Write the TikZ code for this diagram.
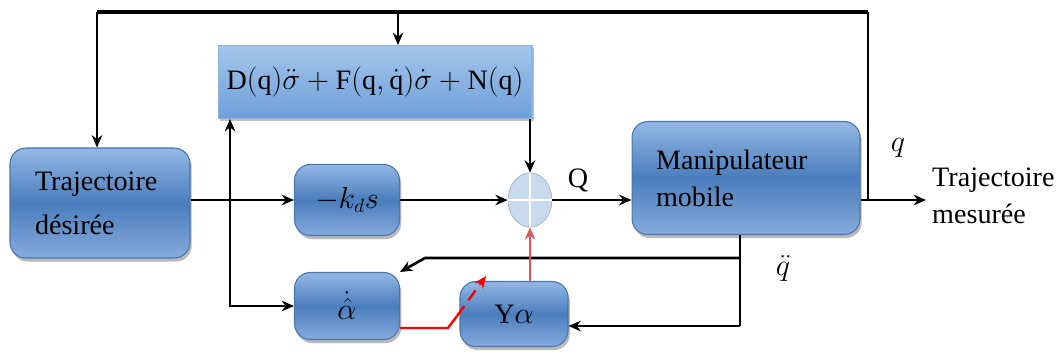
\documentclass[tikz,border=0pt]{standalone}
\usepackage{fontspec}
\setmainfont{Liberation Serif}
\usetikzlibrary{shapes.geometric,shadows,arrows.meta}
\definecolor{boxtop}{HTML}{93B8E5}
\definecolor{boxmid}{HTML}{4A7DBD}
\definecolor{boxbot}{HTML}{86ABDC}
\definecolor{boxline}{HTML}{4A76AE}
\definecolor{dfntop}{HTML}{A3C5EB}
\definecolor{dfnbot}{HTML}{6E9FD9}
\definecolor{sumfill}{HTML}{C9DAEF}
\definecolor{adaptred}{HTML}{D9595B}
\begin{document}
\begin{tikzpicture}[x=0.02cm, y=-0.02cm, >={Stealth[length=7pt,width=6pt]},
    blk/.style={rectangle, rounded corners=9pt, draw=boxline, line width=0.6pt,
        top color=boxtop, bottom color=boxbot, middle color=boxmid,
        drop shadow={shadow xshift=1pt, shadow yshift=-2pt, fill=black!55},
        font=\fontsize{16}{21}\selectfont, align=center},
    sig/.style={line width=1.5pt, black},
    lab/.style={font=\fontsize{16}{21}\selectfont}]
    \useasboundingbox (0,0) rectangle (1057,353);
    % blocs
    \node[blk, minimum width=3.6cm, minimum height=2.2cm] (traj) at (100,203)
        {\parbox{2.6cm}{\raggedright Trajectoire\\[4pt] désirée}};
    \node[blk, minimum width=2.1cm, minimum height=1.42cm] (kd) at (347,200) {$-k_d s$};
    \node[rectangle, draw=dfnbot!80, line width=0.6pt, top color=dfntop, bottom color=dfnbot,
        drop shadow={shadow xshift=1pt, shadow yshift=-1.5pt, fill=black!50},
        minimum width=6.28cm, minimum height=1.46cm, lab] (dfn) at (375,82)
        {$\mathrm{D(q)}\ddot{\sigma}+\mathrm{F}(\mathrm{q},\dot{\mathrm{q}})\dot{\sigma}+\mathrm{N(q)}$};
    \node[ellipse, draw=sumfill!80!black, fill=sumfill, minimum width=0.88cm,
        minimum height=1.08cm, inner sep=0pt] (sum) at (530,200) {};
    \draw[white, line width=0.8pt] (sum.north) -- (sum.south) (sum.west) -- (sum.east);
    \node[blk, minimum width=4.56cm, minimum height=2.26cm] (manip) at (746,178)
        {\parbox{3.6cm}{\raggedright Manipulateur\\ mobile}};
    \node[blk, minimum width=2.1cm, minimum height=1.34cm] (alpha) at (347,306) {$\dot{\hat{\alpha}}$};
    \node[blk, minimum width=2.16cm, minimum height=1.3cm] (ya) at (514,314) {Y$\alpha$};
    % textes
    \node[lab, anchor=west, align=left] (mes) at (926,196) {Trajectoire\\ mesurée};
    \node[lab] (Q) at (578,180) {Q};
    \node[lab] (q) at (898,148) {$q$};
    \node[lab] (qdd) at (783,268) {$\ddot{q}$};
    % points de branchement
    \coordinate (b1) at (230,200);
    \coordinate (b2) at (868,200);
    \coordinate (tl) at (97,12);
    \coordinate (tr) at (868,12);
    \coordinate (td) at (398,12);
    \coordinate (b3) at (740,258);
    \coordinate (b4) at (425,258);
    \coordinate (b5) at (740,326);
    % liaisons
    \draw[sig, ->] (traj.east |- b1) -- (kd.west);
    \draw[sig, ->] (b1) -- (b1 |- dfn.south);
    \draw[sig, ->] (b1) |- (alpha.west);
    \draw[sig, ->] (kd.east) -- (sum.west);
    \draw[sig, ->] (dfn.south -| sum) -- (sum.north);
    \draw[sig, ->] (sum.east) -- (sum.east -| manip.west);
    \draw[sig, ->] (manip.east |- b2) -- (mes.west |- b2);
    \draw[sig] (b2) -- (tr);
    \draw[sig, line width=2.2pt] (tr) -- (tl);
    \draw[sig, ->] (tl) -- (tl |- traj.north);
    \draw[sig, ->] (td) -- (td |- dfn.north);
    \draw[sig] (manip.south -| b3) -- (b5);
    \draw[sig, ->] (b5) -- (b5 -| ya.east);
    \draw[sig, ->] (b3) -- (b4) -- (alpha.north east);
    \draw[adaptred, line width=1.3pt, ->] (ya.north -| sum) -- (sum.south);
    \coordinate (r1) at (448,328);
    \coordinate (r2) at (457,316);
    \coordinate (r3) at (486,276);
    \draw[red, line width=1.4pt] (alpha.east |- r1) -- (r1) -- (r2);
    \draw[red, line width=1.4pt, dashed, dash pattern=on 7pt off 4pt, ->] (r2) -- (r3);
\end{tikzpicture}
\end{document}
